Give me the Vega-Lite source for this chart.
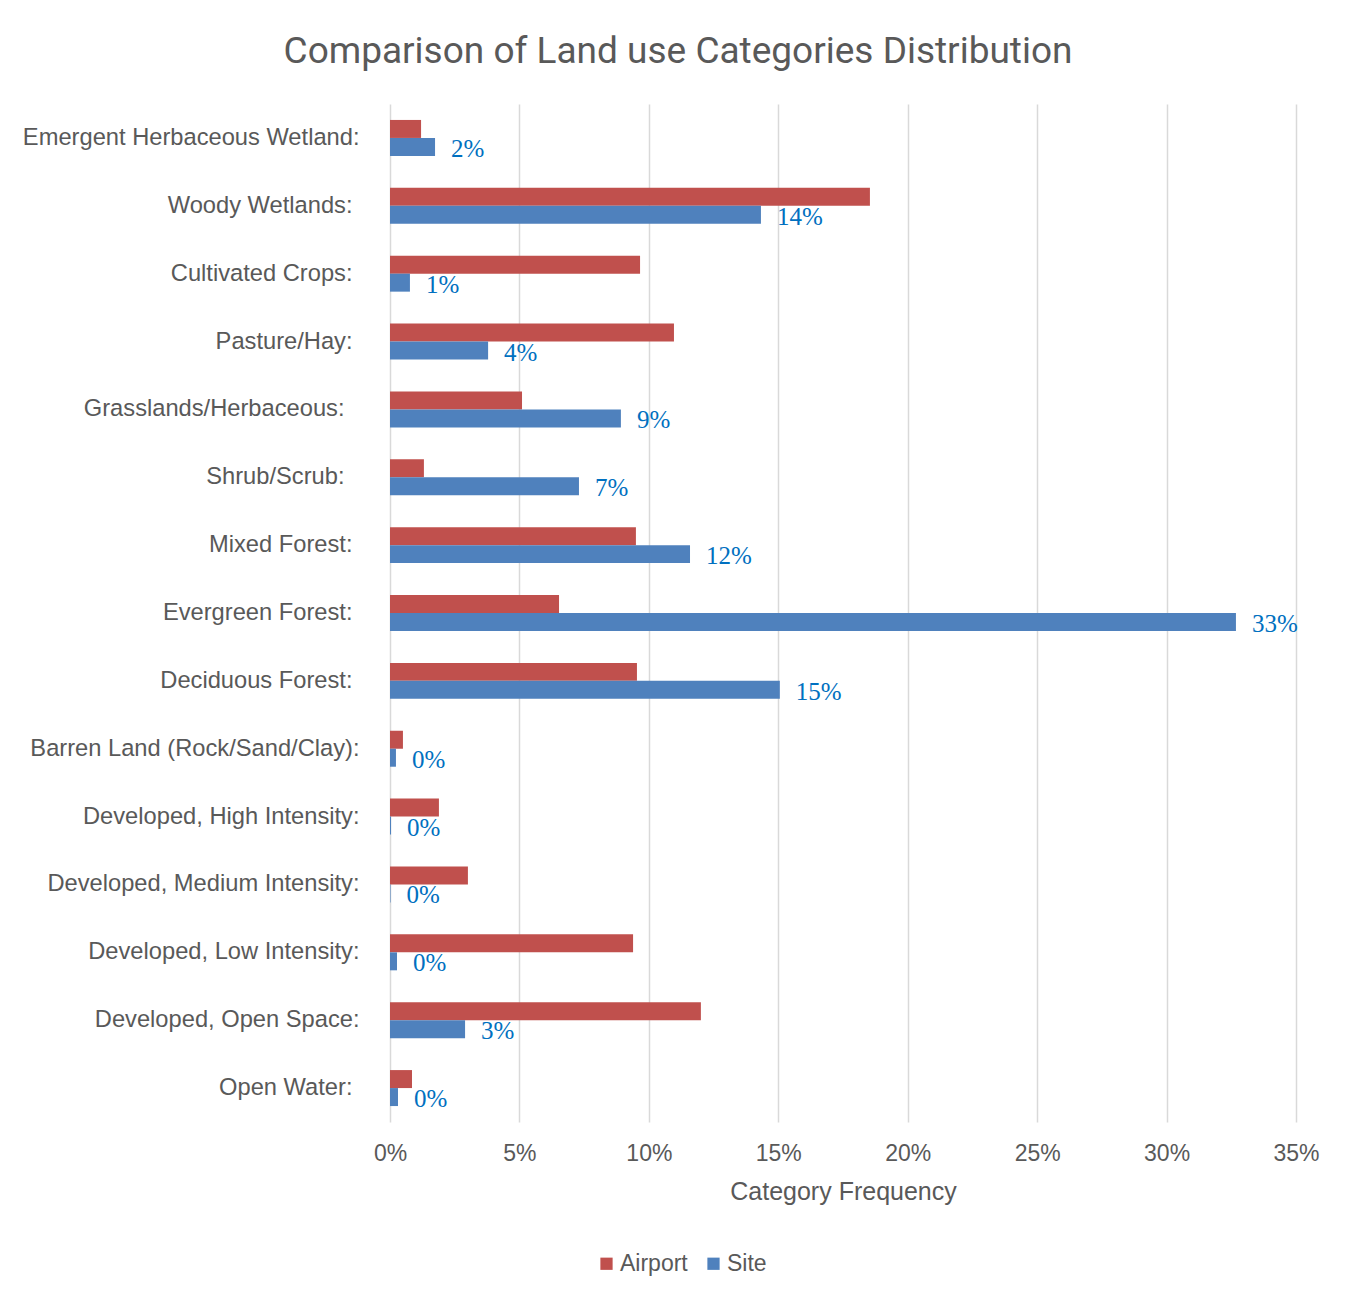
{
  "$schema": "https://vega.github.io/schema/vega-lite/v6.json",
  "autosize": "none",
  "width": 906,
  "height": 1018,
  "padding": {"left": 390, "top": 104, "right": 55, "bottom": 173},
  "background": "white",
  "title": {
    "text": "Comparison of Land use Categories Distribution",
    "anchor": "middle",
    "dx": -165,
    "offset": 33,
    "font": "Roboto",
    "fontSize": 37,
    "fontWeight": "normal",
    "color": "#595959"
  },
  "config": {
    "view": {"stroke": null},
    "font": "Liberation Sans"
  },
  "data": {
    "values": [
      {"category": "Emergent Herbaceous Wetland:", "series": "Airport", "value": 0.0120},
      {"category": "Emergent Herbaceous Wetland:", "series": "Site", "value": 0.0174},
      {"category": "Woody Wetlands:", "series": "Airport", "value": 0.1854},
      {"category": "Woody Wetlands:", "series": "Site", "value": 0.1433},
      {"category": "Cultivated Crops:", "series": "Airport", "value": 0.0966},
      {"category": "Cultivated Crops:", "series": "Site", "value": 0.0077},
      {"category": "Pasture/Hay:", "series": "Airport", "value": 0.1097},
      {"category": "Pasture/Hay:", "series": "Site", "value": 0.0379},
      {"category": "Grasslands/Herbaceous:", "series": "Airport", "value": 0.0510},
      {"category": "Grasslands/Herbaceous:", "series": "Site", "value": 0.0892},
      {"category": "Shrub/Scrub:", "series": "Airport", "value": 0.0131},
      {"category": "Shrub/Scrub:", "series": "Site", "value": 0.0730},
      {"category": "Mixed Forest:", "series": "Airport", "value": 0.0950},
      {"category": "Mixed Forest:", "series": "Site", "value": 0.1159},
      {"category": "Evergreen Forest:", "series": "Airport", "value": 0.0653},
      {"category": "Evergreen Forest:", "series": "Site", "value": 0.3268},
      {"category": "Deciduous Forest:", "series": "Airport", "value": 0.0954},
      {"category": "Deciduous Forest:", "series": "Site", "value": 0.1506},
      {"category": "Barren Land (Rock/Sand/Clay):", "series": "Airport", "value": 0.0050},
      {"category": "Barren Land (Rock/Sand/Clay):", "series": "Site", "value": 0.0023},
      {"category": "Developed, High Intensity:", "series": "Airport", "value": 0.0189},
      {"category": "Developed, High Intensity:", "series": "Site", "value": 0.0004},
      {"category": "Developed, Medium Intensity:", "series": "Airport", "value": 0.0301},
      {"category": "Developed, Medium Intensity:", "series": "Site", "value": 0.0002},
      {"category": "Developed, Low Intensity:", "series": "Airport", "value": 0.0939},
      {"category": "Developed, Low Intensity:", "series": "Site", "value": 0.0027},
      {"category": "Developed, Open Space:", "series": "Airport", "value": 0.1201},
      {"category": "Developed, Open Space:", "series": "Site", "value": 0.0290},
      {"category": "Open Water:", "series": "Airport", "value": 0.0085},
      {"category": "Open Water:", "series": "Site", "value": 0.0031}
    ]
  },
  "encoding": {
    "y": {
      "field": "category",
      "type": "nominal",
      "sort": null,
      "scale": {"paddingInner": 0.47, "paddingOuter": 0.235},
      "axis": {
        "title": null,
        "ticks": false,
        "domain": false,
        "labelPadding": {
          "condition": [
            {"test": "indexof(['Grasslands/Herbaceous:', 'Shrub/Scrub:'], datum.value) >= 0", "value": 46},
            {"test": "indexof(['Woody Wetlands:', 'Cultivated Crops:', 'Pasture/Hay:', 'Mixed Forest:', 'Evergreen Forest:', 'Deciduous Forest:', 'Open Water:'], datum.value) >= 0", "value": 38}
          ],
          "value": 31
        },
        "labelFontSize": 23.7,
        "labelColor": "#595959",
        "labelFont": "Liberation Sans",
        "labelLimit": 400
      }
    },
    "yOffset": {
      "field": "series",
      "type": "nominal",
      "scale": {"domain": ["Airport", "Site"], "paddingInner": 0, "paddingOuter": 0}
    },
    "x": {
      "field": "value",
      "type": "quantitative",
      "scale": {"domain": [0, 0.35], "nice": false, "zero": true},
      "axis": {
        "title": "Category Frequency",
        "format": ".0%",
        "values": [0, 0.05, 0.1, 0.15, 0.2, 0.25, 0.3, 0.35],
        "ticks": false,
        "domain": false,
        "grid": true,
        "gridColor": "#D9D9D9",
        "gridWidth": 1.5,
        "labelFlush": false,
        "labelBound": false,
        "labelOverlap": false,
        "labelPadding": 20,
        "labelFontSize": 23,
        "labelColor": "#595959",
        "labelFont": "Liberation Sans",
        "titleFontSize": 25,
        "titleFontWeight": "normal",
        "titleColor": "#595959",
        "titleFont": "Liberation Sans",
        "titlePadding": 14
      }
    }
  },
  "layer": [
    {
      "mark": {"type": "bar"},
      "encoding": {
        "color": {
          "field": "series",
          "type": "nominal",
          "scale": {"domain": ["Airport", "Site"], "range": ["#C0504D", "#4F81BD"]},
          "legend": {
            "title": null,
            "orient": "none",
            "direction": "horizontal",
            "legendX": 205,
            "legendY": 1148,
            "symbolType": "square",
            "symbolSize": 150,
            "symbolStrokeWidth": 0,
            "labelFontSize": 23,
            "labelColor": "#595959",
            "labelFont": "Liberation Sans",
            "labelOffset": 2,
            "columnPadding": 14
          }
        }
      }
    },
    {
      "transform": [{"filter": "datum.series === 'Site'"}],
      "mark": {
        "type": "text",
        "align": "left",
        "baseline": "middle",
        "dx": 16,
        "dy": 2,
        "font": "Liberation Serif",
        "fontSize": 25,
        "color": "#0070C0"
      },
      "encoding": {
        "text": {"field": "value", "type": "quantitative", "format": ".0%"}
      }
    },
    {
      "mark": {"type": "rule", "color": "#D9D9D9", "strokeWidth": 2},
      "encoding": {
        "x": {"datum": 0}
      }
    }
  ]
}
